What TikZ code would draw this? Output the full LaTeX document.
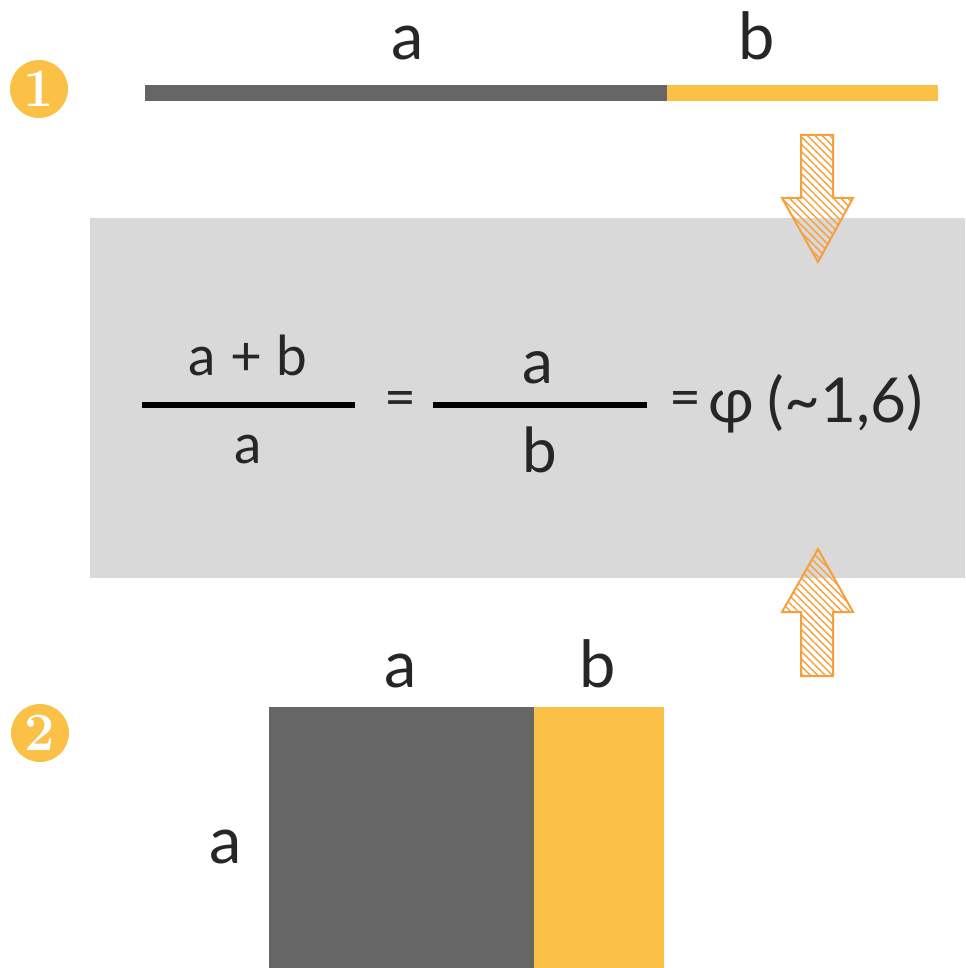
\documentclass[tikz,border=0pt]{standalone}
\usepackage{fontspec}
\setmainfont{Lato}
\newfontfamily\numfont{Latin Modern Roman}
\usetikzlibrary{patterns.meta}
\definecolor{goldbar}{HTML}{FBC046}
\definecolor{darkbar}{HTML}{666666}
\definecolor{panelgray}{HTML}{D9D9D9}
\definecolor{hatchorange}{HTML}{F5A03C}
\definecolor{inkgray}{HTML}{262626}
\begin{document}
\begin{tikzpicture}[x=0.5pt,y=-0.5pt]
\tikzstyle{numdot}=[circle,fill=goldbar,minimum size=29pt,inner sep=0pt,text=white,font=\numfont\bfseries\fontsize{27}{27}\selectfont]
\tikzstyle{lbl}=[anchor=base,inner sep=0pt,text=inkgray,font=\fontsize{32.5}{36}\selectfont]
\tikzstyle{fracone}=[anchor=base,inner sep=0pt,text=inkgray,font=\fontsize{27.5}{30}\selectfont]
\tikzstyle{fractwo}=[anchor=base,inner sep=0pt,text=inkgray,font=\fontsize{31}{34}\selectfont]
\tikzstyle{hatch}=[draw=hatchorange,line width=1pt,line join=miter,pattern={Lines[angle=-45,distance=2.6pt,line width=0.7pt]},pattern color=hatchorange]
\useasboundingbox (0,0) rectangle (965,968);
% ratio panel
\fill[panelgray] (90,218) rectangle (965,578);
% step 1: segment
\node[numdot] (one) at (39,89) {1};
\fill[darkbar] (145,85) rectangle (667,101);
\fill[goldbar] (667,85) rectangle (938,101);
\node[lbl] (sega) at (408,60) {a};
\node[lbl] (segb) at (757,60) {b};
% arrows into the panel
\draw[hatch] (801,135) -- (833,135) -- (833,198) -- (853,198) -- (818,262) -- (782,198) -- (801,198) -- cycle;
\draw[hatch] (801,676) -- (833,676) -- (833,612) -- (853,612) -- (818,549) -- (782,612) -- (801,612) -- cycle;
% formula
\node[fracone] (numone) at (248,375) {a + b};
\node[fracone] (denone) at (248,463) {a};
\draw[line width=3pt,black] (142,405) -- (355,405);
\node[fracone,anchor=center] (eqone) at (400,404) {=};
\node[fractwo] (numtwo) at (538,383) {a};
\node[fractwo] (dentwo) at (540,472) {b};
\draw[line width=3pt,black] (433,405) -- (647,405);
\node[fracone,anchor=center] (eqtwo) at (685,404) {=};
\node[lbl,anchor=base west,font=\fontsize{31}{34}\selectfont] (phi) at (708,422) {φ\hspace{-1pt} (\textasciitilde1,6)};
% step 2: rectangle
\node[numdot] (two) at (40,733) {2};
\fill[darkbar] (269,707) rectangle (534,968);
\fill[goldbar] (534,707) rectangle (664,968);
\node[lbl] (reca) at (401,687) {a};
\node[lbl] (recb) at (598,687) {b};
\node[lbl] (side) at (226,863) {a};
\end{tikzpicture}
\end{document}
